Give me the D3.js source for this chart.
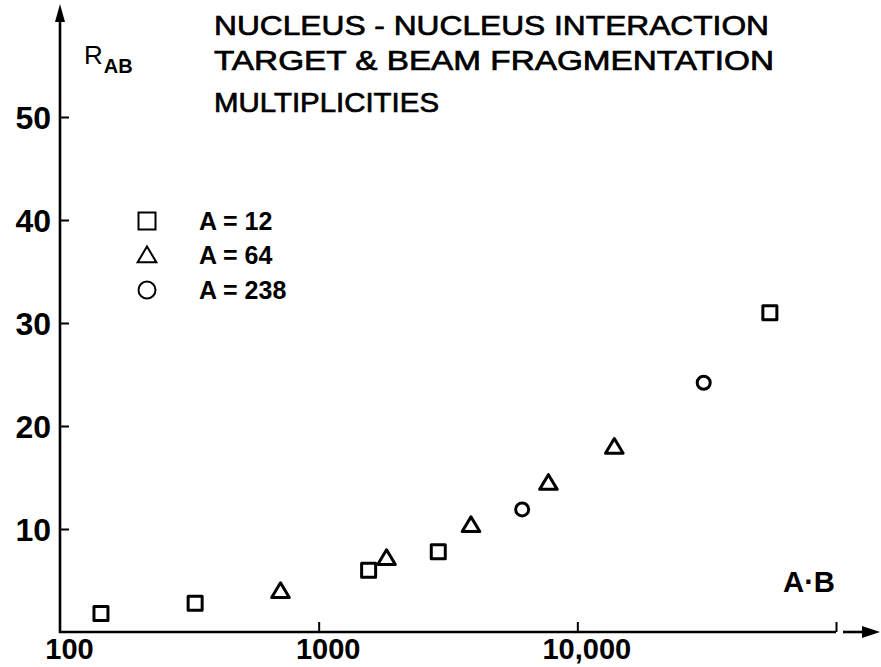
<!DOCTYPE html>
<html><head><meta charset="utf-8">
<script src="https://cdn.jsdelivr.net/npm/d3@7"></script>
<style>body{margin:0;background:#fff}svg{display:block}text{font-family:"Liberation Sans",Arial,sans-serif;fill:#000;font-weight:bold}</style>
</head><body><svg id="c" width="881" height="667"></svg>
<script>
const titleLines = ["NUCLEUS - NUCLEUS  INTERACTION", "TARGET & BEAM  FRAGMENTATION", "MULTIPLICITIES"];
const xTickValues = [100, 1000, 10000, 100000];
const xTickLabels = ["100", "1000", "10,000", ""];
const yTickValues = [10, 20, 30, 40, 50];
const yTickLabels = ["10", "20", "30", "40", "50"];
const seriesNames = ["A = 12", "A = 64", "A = 238"];
const seriesShapes = ["square", "triangle", "circle"];
const sqAB = [144, 333, 1560, 2900, 55500];
const sqR  = [1.8, 2.8, 6.0, 7.8, 31.0];
const trAB = [712, 1830, 3880, 7730, 13900];
const trR  = [4.0, 7.2, 10.4, 14.5, 18.0];
const ciAB = [6120, 30800];
const ciR  = [11.9, 24.2];

const svg = d3.select("#c");
const FF = '"Liberation Sans",Arial,sans-serif';
const x = d3.scaleLog().domain([100, 100000]).range([60, 836]);
const y = d3.scaleLinear().domain([0, 50]).range([632, 117]);
const SW = 2.6;

// axes lines
svg.append("line").attr("x1",60).attr("x2",60).attr("y1",633).attr("y2",18).attr("stroke","#000").attr("stroke-width",SW);
svg.append("path").attr("d","M60,4 L55,22 L65,22 Z").attr("fill","#000");
svg.append("line").attr("x1",59).attr("x2",x(100000)).attr("y1",632).attr("y2",632).attr("stroke","#000").attr("stroke-width",SW);
svg.append("line").attr("x1",843).attr("x2",866).attr("y1",632).attr("y2",632).attr("stroke","#000").attr("stroke-width",SW);
svg.append("path").attr("d","M880,632 L862,626 L862,638 Z").attr("fill","#000");

// x ticks via axis generator
const xAxis = d3.axisBottom(x).tickValues(xTickValues).tickSize(-10).tickFormat((d,i)=>xTickLabels[i]);
const gx = svg.append("g").attr("transform","translate(0,632)").call(xAxis);
gx.select(".domain").remove();
gx.selectAll(".tick line").attr("stroke","#000").attr("stroke-width",2);
gx.selectAll(".tick").filter(d=>d===100).select("line").remove();
gx.selectAll(".tick text").attr("font-size",29).attr("dy",0).attr("y",27).attr("dx",9)
  .style("font-family",FF).style("font-weight","bold").attr("fill","#000");

const yAxis = d3.axisLeft(y).tickValues(yTickValues).tickSize(-9).tickFormat((d,i)=>yTickLabels[i]);
const gy = svg.append("g").attr("transform","translate(60,0)").call(yAxis);
gy.select(".domain").remove();
gy.selectAll(".tick line").attr("stroke","#000").attr("stroke-width",2);
gy.selectAll(".tick text").attr("font-size",32).attr("x",-9).attr("dy","0.36em")
  .style("font-family",FF).style("font-weight","bold").attr("fill","#000");

// axis labels
const rl = svg.append("text").attr("x",84).attr("y",64).attr("font-size",26).style("font-weight","normal");
rl.append("tspan").text("R");
rl.append("tspan").attr("font-size",20).attr("dy",9).attr("dx",1).style("font-weight","bold").text("AB");
svg.append("text").attr("x",783).attr("y",592).attr("font-size",29).attr("textLength",52).attr("lengthAdjust","spacingAndGlyphs").text("A\u00B7B");

// title
const tl = [35, 70, 112];
const tw = [555, 560, 225];
titleLines.forEach((t,i)=>{
  svg.append("text").attr("x",214).attr("y",tl[i]).attr("font-size",28).style("font-weight","normal")
    .attr("stroke","#000").attr("stroke-width",0.7)
    .attr("textLength",tw[i]).attr("lengthAdjust","spacingAndGlyphs").text(t);
});

// markers
function drawShape(g, shape, cx, cy, s){
  if(shape==="square") g.append("rect").attr("x",cx-s/2).attr("y",cy-s/2).attr("width",s).attr("height",s);
  else if(shape==="triangle") g.append("path").attr("d",`M${cx},${cy-s*0.5} L${cx+s*0.55},${cy+s*0.42} L${cx-s*0.55},${cy+s*0.42} Z`);
  else g.append("circle").attr("cx",cx).attr("cy",cy).attr("r",s/2);
}
const marks = svg.append("g").attr("fill","none").attr("stroke","#000").attr("stroke-width",3).attr("stroke-linejoin","round");
sqAB.forEach((v,i)=>drawShape(marks,"square",x(v),y(sqR[i]),14));
trAB.forEach((v,i)=>drawShape(marks,"triangle",x(v),y(trR[i]),16));
ciAB.forEach((v,i)=>drawShape(marks,"circle",x(v),y(ciR[i]),13));

// legend
const legY = [221, 255, 290];
const leg = svg.append("g");
seriesNames.forEach((n,i)=>{
  const g = leg.append("g").attr("fill","none").attr("stroke","#000").attr("stroke-width",2);
  drawShape(g, seriesShapes[i], 147, legY[i], 17);
  leg.append("text").attr("x",199).attr("y",legY[i]+9).attr("font-size",25).text(n);
});
</script></body></html>
